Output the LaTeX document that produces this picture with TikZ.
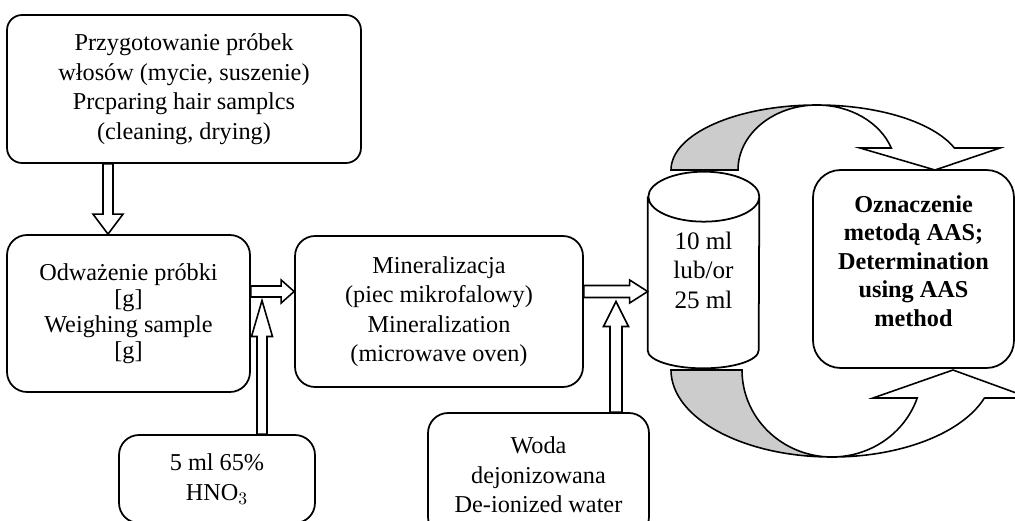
\documentclass[tikz,border=0pt]{standalone}
\usepackage{fontspec}
\setmainfont{Liberation Serif}
\usetikzlibrary{positioning}
\usetikzlibrary{calc}

\tikzset{
  box/.style={draw,line width=1pt,rounded corners=0.4cm,fill=white,align=center,
    font=\fontsize{13.8}{16.8}\selectfont},
  hollow/.style={draw,line width=0.9pt,fill=white,line join=miter},
  band/.style={draw,line width=0.9pt,fill=black!20}
}

% from, to, shaft half width, head half width, head length
\newcommand\blockarrow[5]{%
  \draw[hollow] ($(#1)!#3!90:(#2)$)
    -- ($(#2)!#5!(#1)!#3!-90:(#1)$)
    -- ($(#2)!#5!(#1)!#4!-90:(#1)$)
    -- (#2)
    -- ($(#2)!#5!(#1)!#4!90:(#1)$)
    -- ($(#2)!#5!(#1)!#3!90:(#1)$)
    -- ($(#1)!#3!-90:(#2)$) -- cycle;}

\begin{document}
\begin{tikzpicture}[x=0.02cm,y=0.02cm]
 \useasboundingbox (0,0) rectangle (1015,-521);
 \clip (0,0) rectangle (1015,-521);
 % boxes
 \node[box,rounded corners=0.3cm,minimum width=7.08cm,minimum height=2.96cm] (prep) at (184,-89)
   {Przygotowanie próbek\\włosów (mycie, suszenie)\\Prcparing hair samplcs\\(cleaning, drying)};
 \node[box,minimum width=4.86cm,minimum height=3.14cm,font=\fontsize{13.8}{14.8}\selectfont]
   (weigh) at (128.5,-313.5)
   {Odważenie próbki\\{[g]}\\Weighing sample\\{[g]}};
 \node[box,minimum width=3.92cm,minimum height=1.76cm] (acid) at (217,-479)
   {5 ml 65\%\\HNO$_3$};
 \node[box,minimum width=5.76cm,minimum height=3.02cm] (miner) at (439,-311.5)
   {Mineralizacja\\(piec mikrofalowy)\\Mineralization\\(microwave oven)};
 \node[box,minimum width=4.42cm,minimum height=2.48cm] (water) at (538.5,-475)
   {Woda\\dejonizowana\\De-ionized water};
 \node[minimum width=2.22cm,minimum height=3.92cm,align=center,
   font=\fontsize{14.3}{16.8}\selectfont] (tank) at (703.5,-270) {10 ml\\lub/or\\25 ml};
 \draw[line width=1pt] ($(tank.north west)+(0,-25)$) -- ($(tank.south west)+(0,18)$)
   arc[start angle=180,end angle=360,x radius=55.5,y radius=18]
   -- ($(tank.north east)+(0,-25)$)
   arc[start angle=0,end angle=180,x radius=55.5,y radius=25]
   arc[start angle=180,end angle=360,x radius=55.5,y radius=25];
 \node[box,rounded corners=0.55cm,minimum width=4.02cm,minimum height=3.96cm,
   font=\fontsize{13.8}{16.2}\selectfont\bfseries] (aas) at (913.5,-269)
   {Oznaczenie\\metodą AAS;\\Determination\\using AAS\\method\\[-0.25cm]};

 % block arrows
 \coordinate (p1) at ($(prep.south)+(-76,0)$);
 \blockarrow{p1}{p1 |- weigh.north}{0.1cm}{0.3cm}{0.4cm}
 \coordinate (w1) at ($(weigh.east)+(0,22)$);
 \blockarrow{w1}{w1 -| miner.west}{0.11cm}{0.23cm}{0.26cm}
 \coordinate (m1) at (miner.east |- w1);
 \blockarrow{m1}{m1 -| tank.west}{0.12cm}{0.23cm}{0.36cm}
 \coordinate (a1) at ($(acid.north)+(45,0)$);
 \coordinate (a2) at ($(a1 |- w1)+(0,-9)$);
 \blockarrow{a1}{a2}{0.1cm}{0.21cm}{0.72cm}
 \coordinate (d1) at ($(water.north)+(77.5,0)$);
 \coordinate (d2) at ($(d1 |- m1)+(0,-10)$);
 \blockarrow{d1}{d2}{0.12cm}{0.25cm}{0.5cm}

 % upper loop
 \draw[band] (671,-170) arc[start angle=180,end angle=90,x radius=146,y radius=65]
   arc[start angle=90,end angle=180,x radius=79,y radius=65] -- cycle;
 \draw[hollow] (817,-105) arc[start angle=90,end angle=19.8,x radius=146,y radius=65]
   -- (1000,-148) -- (935,-170) -- (860,-148) -- (891.3,-148)
   arc[start angle=19.8,end angle=90,x radius=79,y radius=65] -- cycle;
 % lower loop
 \draw[band] (671,-370) arc[start angle=180,end angle=270,x radius=161,y radius=87]
   arc[start angle=270,end angle=180,x radius=90,y radius=87] -- cycle;
 \draw[hollow] (832,-457) arc[start angle=270,end angle=341.2,x radius=161,y radius=87]
   -- (1030,-398) -- (953,-370) -- (873,-398) -- (917.2,-398)
   arc[start angle=341.2,end angle=270,x radius=90,y radius=87] -- cycle;
\end{tikzpicture}
\end{document}
